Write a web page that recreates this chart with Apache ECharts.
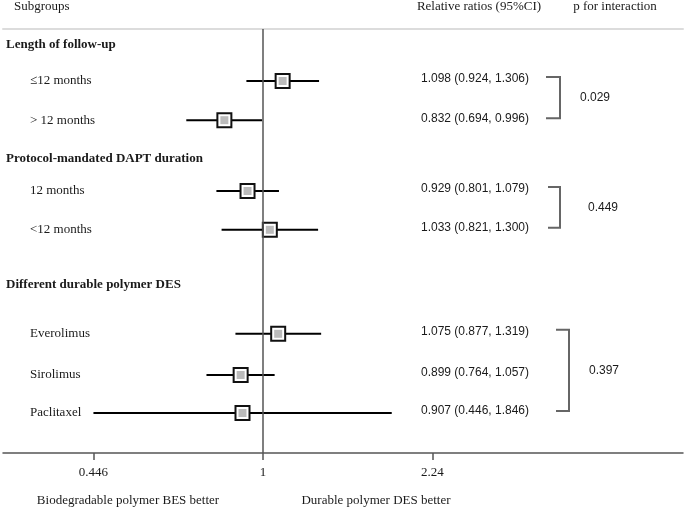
<!DOCTYPE html>
<html><head><meta charset="utf-8">
<script src="https://cdn.jsdelivr.net/npm/echarts@6/dist/echarts.min.js"></script>
<style>html,body{margin:0;padding:0;background:#fff}#c{width:686px;height:510px}</style>
</head><body><div id="c"></div>
<script>
// ---- data ----
const groupTitles = ['Length of follow-up', 'Protocol-mandated DAPT duration', 'Different durable polymer DES'];
const subgroups = ['≤12 months', '> 12 months', '12 months', '<12 months', 'Everolimus', 'Sirolimus', 'Paclitaxel'];
const ratio = [1.098, 0.832, 0.929, 1.033, 1.075, 0.899, 0.907];
const lower = [0.924, 0.694, 0.801, 0.821, 0.877, 0.764, 0.446];
const upper = [1.306, 0.996, 1.079, 1.300, 1.319, 1.057, 1.846];
const groupMembers = [[0, 1], [2, 3], [4, 5, 6]];
const pInteraction = ['0.029', '0.449', '0.397'];
const tickValues = [0.446, 1, 2.24];
const columnHeaders = ['Subgroups', 'Relative ratios (95%CI)', 'p for interaction'];
const favourLabels = ['Biodegradable polymer BES better', 'Durable polymer DES better'];

// ---- layout (row slots on a hidden vertical axis) ----
const rowSlot = [6.5, 11.4, 20.25, 25.1, 38.1, 43.25, 48];
const titleSlot = [2, 16.25, 32];
const bracketX = [[546, 560], [548, 560], [556, 569]];
const pX = [595, 603, 604];

const SERIF = '"Liberation Serif", "DejaVu Serif", serif';
const SANS = '"Liberation Sans", Arial, sans-serif';
const TXT = '#1a1a1a';

const fmt = v => v.toFixed(3);
const chart = echarts.init(document.getElementById('c'));

const option = {
  animation: false,
  backgroundColor: '#fff',
  grid: { left: 3, right: 3, top: 29, bottom: 57 },
  xAxis: [{
    type: 'log', logBase: Math.E, position: 'bottom',
    min: Math.exp(-260 / 210), max: Math.exp(2),
    axisLine: { onZero: false, lineStyle: { color: '#555', width: 1.5 } },
    axisTick: { show: true, customValues: tickValues, length: 7, lineStyle: { color: '#555', width: 1.5 } },
    minorTick: { show: false },
    splitLine: { show: false },
    axisLabel: {
      customValues: tickValues, margin: 13, color: TXT,
      fontFamily: SERIF, fontSize: 13,
      formatter: v => String(+(+v).toPrecision(6))
    }
  }, {
    type: 'log', logBase: Math.E, position: 'top',
    min: Math.exp(-260 / 210), max: Math.exp(2),
    axisLine: { onZero: false, lineStyle: { color: '#dcdcdc', width: 2 } },
    axisTick: { show: false }, axisLabel: { show: false }, splitLine: { show: false }
  }],
  yAxis: { type: 'value', inverse: true, min: 0, max: 53, show: false },
  graphic: [
    { type: 'text', left: 14, top: 0, style: { text: columnHeaders[0], font: '13px ' + SERIF, fill: TXT } },
    { type: 'text', x: 479, y: 7, style: { text: columnHeaders[1], font: '13px ' + SERIF, fill: TXT, align: 'center', verticalAlign: 'middle' } },
    { type: 'text', x: 615, y: 7, style: { text: columnHeaders[2], font: '13px ' + SERIF, fill: TXT, align: 'center', verticalAlign: 'middle' } },
    { type: 'text', x: 128, y: 501, style: { text: favourLabels[0], font: '13px ' + SERIF, fill: TXT, align: 'center', verticalAlign: 'middle' } },
    { type: 'text', x: 376, y: 501, style: { text: favourLabels[1], font: '13px ' + SERIF, fill: TXT, align: 'center', verticalAlign: 'middle' } }
  ],
  series: [
    { // confidence intervals
      type: 'custom', name: 'CI', clip: false, z: 2,
      data: subgroups.map((s, i) => [lower[i], upper[i], rowSlot[i]]),
      encode: { x: [0, 1], y: 2 },
      renderItem: (params, api) => {
        const y = api.value(2);
        const a = api.coord([api.value(0), y]);
        const b = api.coord([api.value(1), y]);
        return { type: 'line', shape: { x1: a[0], y1: a[1], x2: b[0], y2: b[1] }, style: { stroke: '#000', lineWidth: 2 } };
      },
      markLine: {
        silent: true, symbol: 'none', label: { show: false },
        lineStyle: { color: '#555', width: 1.5, type: 'solid' },
        data: [{ xAxis: 1 }]
      }
    },
    { // outer squares
      type: 'scatter', z: 3, symbol: 'rect', symbolSize: 14,
      data: ratio.map((r, i) => [r, rowSlot[i]]),
      itemStyle: { color: '#fff', borderColor: '#111', borderWidth: 2, opacity: 1 }
    },
    { // inner squares
      type: 'scatter', z: 4, symbol: 'rect', symbolSize: 8,
      data: ratio.map((r, i) => [r, rowSlot[i]]),
      itemStyle: { color: '#bbbbbb', opacity: 1 }
    },
    { // subgroup labels + CI text
      type: 'custom', clip: false, z: 5,
      data: subgroups.map((s, i) => [1, rowSlot[i]]),
      encode: { x: 0, y: 1 },
      renderItem: (params, api) => {
        const i = params.dataIndex;
        const y = api.coord([1, api.value(1)])[1];
        return { type: 'group', children: [
          { type: 'text', x: 30, y: y, style: { text: subgroups[i], font: '13px ' + SERIF, fill: TXT, verticalAlign: 'middle' } },
          { type: 'text', x: 475, y: y - 2, style: { text: fmt(ratio[i]) + ' (' + fmt(lower[i]) + ', ' + fmt(upper[i]) + ')', font: '12px ' + SANS, fill: TXT, align: 'center', verticalAlign: 'middle' } }
        ] };
      }
    },
    { // group titles
      type: 'custom', clip: false, z: 5,
      data: groupTitles.map((g, i) => [1, titleSlot[i]]),
      encode: { x: 0, y: 1 },
      renderItem: (params, api) => {
        const y = api.coord([1, api.value(1)])[1];
        return { type: 'text', x: 6, y: y, style: { text: groupTitles[params.dataIndex], font: 'bold 13px ' + SERIF, fill: TXT, verticalAlign: 'middle' } };
      }
    },
    { // brackets + p for interaction
      type: 'custom', clip: false, z: 5,
      data: groupMembers.map((m, g) => [1, rowSlot[m[0]], rowSlot[m[m.length - 1]]]),
      encode: { x: 0, y: [1, 2] },
      renderItem: (params, api) => {
        const g = params.dataIndex;
        const y1 = api.coord([1, api.value(1)])[1] - 4;
        const y2 = api.coord([1, api.value(2)])[1] - 2;
        const [xa, xb] = bracketX[g];
        return { type: 'group', children: [
          { type: 'polyline', shape: { points: [[xa, y1], [xb, y1], [xb, y2], [xa, y2]] }, style: { stroke: '#666', lineWidth: 2, fill: null } },
          { type: 'text', x: pX[g], y: (y1 + y2) / 2, style: { text: pInteraction[g], font: '12px ' + SANS, fill: TXT, align: 'center', verticalAlign: 'middle' } }
        ] };
      }
    }
  ]
};
chart.setOption(option);
</script></body></html>
